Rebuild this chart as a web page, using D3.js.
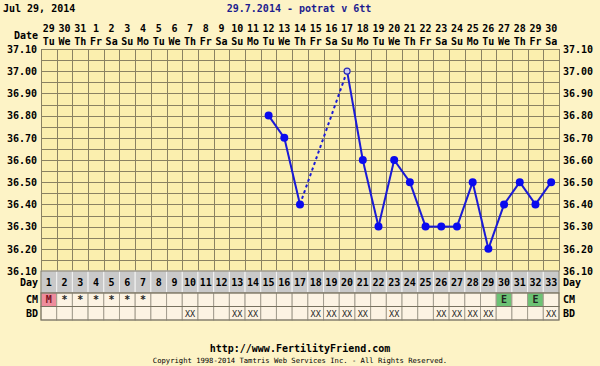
<!DOCTYPE html>
<html>
<head>
<meta charset="utf-8">
<script src="https://cdn.jsdelivr.net/npm/d3@7"></script>
<style>
	body { margin: 0; background: #fdf3c6; }
	svg { display: block; font-family: "DejaVu Sans Mono", monospace; font-weight: bold; }
</style>
</head>
<body>
<svg id="chart" width="600" height="366"></svg>
<script>
// Data
var days = [1, 2, 3, 4, 5, 6, 7, 8, 9, 10, 11, 12, 13, 14, 15, 16, 17, 18, 19, 20, 21, 22, 23, 24, 25, 26, 27, 28, 29, 30, 31, 32, 33];
var dates = ['29', '30', '31', '1', '2', '3', '4', '5', '6', '7', '8', '9', '10', '11', '12', '13', '14', '15', '16', '17', '18', '19', '20', '21', '22', '23', '24', '25', '26', '27', '28', '29', '30'];
var weekdays = ['Tu', 'We', 'Th', 'Fr', 'Sa', 'Su', 'Mo', 'Tu', 'We', 'Th', 'Fr', 'Sa', 'Su', 'Mo', 'Tu', 'We', 'Th', 'Fr', 'Sa', 'Su', 'Mo', 'Tu', 'We', 'Th', 'Fr', 'Sa', 'Su', 'Mo', 'Tu', 'We', 'Th', 'Fr', 'Sa'];
var temps = [null, null, null, null, null, null, null, null, null, null, null, null, null, null,
	36.80, 36.70, 36.40, null, null, 37.00, 36.60, 36.30, 36.60, 36.50, 36.30, 36.30, 36.30, 36.50, 36.20, 36.40, 36.50, 36.40, 36.50];
var hollowDays = [20];
var cm = ['M', '*', '*', '*', '*', '*', '*', '', '', '', '', '', '', '', '', '', '', '', '', '', '', '', '', '', '', '', '', '', '', 'E', '', 'E', ''];
var bd = ['', '', '', '', '', '', '', '', '', 'XX', '', '', 'XX', 'XX', '', '', '', 'XX', 'XX', 'XX', 'XX', '', 'XX', '', '', 'XX', 'XX', 'XX', 'XX', '', '', '', 'XX'];
var yTicks = [37.10, 37.00, 36.90, 36.80, 36.70, 36.60, 36.50, 36.40, 36.30, 36.20, 36.10];

var svg = d3.select('#chart'),
	margin = { left: 41, right: 41, top: 49, bottom: 271 },
	width = 600,
	rows = { day: [271, 293], cm: [293, 306.5], bd: [306.5, 320] };

var x = d3.scaleBand().domain(days).range([margin.left, width - margin.right]),
	bw = x.bandwidth(),
	y = d3.scaleLinear().domain([36.1, 37.1]).range([margin.bottom, margin.top]);

// Plot background
svg.append('rect')
	.attr('x', x.range()[0]).attr('y', margin.top)
	.attr('width', x.range()[1] - x.range()[0]).attr('height', margin.bottom - margin.top)
	.attr('fill', '#fbefae');

// Grid
var gGrid = svg.append('g').attr('stroke', '#8a8262').attr('stroke-width', 1).attr('shape-rendering', 'crispEdges');
gGrid.selectAll('line.h').data(y.ticks(20)).enter().append('line')
	.attr('class', 'h')
	.attr('x1', x.range()[0]).attr('x2', x.range()[1])
	.attr('y1', function(d) { return Math.round(y(d)) + 0.5; })
	.attr('y2', function(d) { return Math.round(y(d)) + 0.5; });
gGrid.selectAll('line.v').data(days.concat(['end'])).enter().append('line')
	.attr('class', 'v')
	.attr('x1', function(d) { return Math.round(d === 'end' ? x.range()[1] : x(d)) + 0.5; })
	.attr('x2', function(d) { return Math.round(d === 'end' ? x.range()[1] : x(d)) + 0.5; })
	.attr('y1', margin.top).attr('y2', margin.bottom);

// Temperature axes (both sides)
var fmt = d3.format('.2f');
var gLeft = svg.append('g').attr('transform', 'translate(' + (x.range()[0] - 2) + ',0)')
	.call(d3.axisLeft(y).tickValues(yTicks).tickFormat(fmt).tickSize(0).tickPadding(2));
var gRight = svg.append('g').attr('transform', 'translate(' + (x.range()[1] + 2) + ',0)')
	.call(d3.axisRight(y).tickValues(yTicks).tickFormat(fmt).tickSize(0).tickPadding(2));
[gLeft, gRight].forEach(function(g) {
	g.select('.domain').remove();
	g.attr('font-family', null).attr('font-size', 10)
		.selectAll('text').attr('fill', '#000');
});

// Header: dates and weekdays
var gHead = svg.append('g').attr('font-size', 10).attr('text-anchor', 'middle').attr('fill', '#000');
gHead.selectAll('text.date').data(days).enter().append('text')
	.attr('class', 'date')
	.attr('x', function(d) { return x(d) + bw / 2; })
	.attr('y', 32)
	.text(function(d, i) { return dates[i]; });
gHead.selectAll('text.wd').data(days).enter().append('text')
	.attr('class', 'wd')
	.attr('x', function(d) { return x(d) + bw / 2; })
	.attr('y', 45)
	.text(function(d, i) { return weekdays[i]; });
svg.append('text').attr('x', 38).attr('y', 39).attr('text-anchor', 'end')
	.attr('font-size', 10).text('Date');

// Bottom rows: Day, CM, BD
function drawRow(key, values, fillFn, textFill) {
	var r = rows[key];
	var g = svg.append('g').attr('font-size', 10);
	var cells = g.selectAll('g').data(days).enter().append('g');
	cells.append('rect')
		.attr('x', function(d) { return x(d); })
		.attr('y', r[0])
		.attr('width', bw).attr('height', r[1] - r[0])
		.attr('fill', function(d, i) { return fillFn(values[i]); })
		.attr('stroke', key === 'day' ? '#f2f2f2' : '#a39d8f')
		.attr('stroke-width', 1);
	cells.append('text')
		.attr('x', function(d) { return x(d) + bw / 2; })
		.attr('y', (r[0] + r[1]) / 2 + 3.5)
		.attr('text-anchor', 'middle')
		.attr('fill', function(d, i) { return values[i] === 'M' ? '#7a1020' : textFill; })
		.attr('font-size', key === 'bd' ? 8.5 : 10)
		.attr('font-weight', key === 'bd' ? 'normal' : 'bold')
		.text(function(d, i) { return values[i]; });
	g.append('rect')
		.attr('x', x.range()[0]).attr('y', r[0])
		.attr('width', x.range()[1] - x.range()[0]).attr('height', r[1] - r[0])
		.attr('fill', 'none').attr('stroke', '#77715f');
}
drawRow('day', days, function() { return '#c9c9c9'; }, '#000');
drawRow('cm', cm, function(v) {
	return v === 'M' ? '#ee8c9c' : v === 'E' ? '#6cc274' : '#fcf3e3';
}, '#222');
drawRow('bd', bd, function() { return '#fcf3e3'; }, '#222');

var rowLabels = [['Day', rows.day], ['CM', rows.cm], ['BD', rows.bd]];
rowLabels.forEach(function(rl) {
	var cy = (rl[1][0] + rl[1][1]) / 2 + 3.5;
	svg.append('text').attr('x', x.range()[0] - 3).attr('y', cy).attr('text-anchor', 'end')
		.attr('font-size', 10).text(rl[0]);
	svg.append('text').attr('x', x.range()[1] + 4).attr('y', cy).attr('text-anchor', 'start')
		.attr('font-size', 10).text(rl[0]);
});

// Temperature line: solid between consecutive days, dotted over gaps
var points = days.map(function(d, i) { return { day: d, t: temps[i] }; })
	.filter(function(p) { return p.t !== null; });
var segments = [];
for (var i = 1; i < points.length; i++) {
	segments.push({ a: points[i - 1], b: points[i], gap: points[i].day - points[i - 1].day > 1 });
}
var gLine = svg.append('g');
gLine.selectAll('line').data(segments).enter().append('line')
	.attr('x1', function(s) { return x(s.a.day) + bw / 2; })
	.attr('y1', function(s) { return y(s.a.t); })
	.attr('x2', function(s) { return x(s.b.day) + bw / 2; })
	.attr('y2', function(s) { return y(s.b.t); })
	.attr('stroke', '#1a1ad6')
	.attr('stroke-width', 2)
	.attr('stroke-dasharray', function(s) { return s.gap ? '3,3' : null; });
gLine.selectAll('circle').data(points).enter().append('circle')
	.attr('cx', function(p) { return x(p.day) + bw / 2; })
	.attr('cy', function(p) { return y(p.t); })
	.attr('r', function(p) { return hollowDays.indexOf(p.day) >= 0 ? 3 : 4; })
	.attr('fill', function(p) { return hollowDays.indexOf(p.day) >= 0 ? '#c9c9f0' : '#0a0aee'; })
	.attr('stroke', function(p) { return hollowDays.indexOf(p.day) >= 0 ? '#2a2ab8' : 'none'; })
	.attr('stroke-width', 1.2);

// Titles
svg.append('text').attr('x', 3).attr('y', 12).attr('font-size', 10).text('Jul 29, 2014');
svg.append('text').attr('x', 299).attr('y', 12).attr('font-size', 10).attr('text-anchor', 'middle')
	.attr('fill', '#1c1c8e').text('29.7.2014 - potrat v 6tt');
svg.append('text').attr('x', 300).attr('y', 352).attr('font-size', 10).attr('text-anchor', 'middle')
	.text('http://www.FertilityFriend.com');
svg.append('text').attr('x', 300).attr('y', 363).attr('font-size', 7.2).attr('text-anchor', 'middle')
	.attr('font-weight', 'normal').text('Copyright 1998-2014 Tamtris Web Services Inc. - All Rights Reserved.');
</script>
</body>
</html>
